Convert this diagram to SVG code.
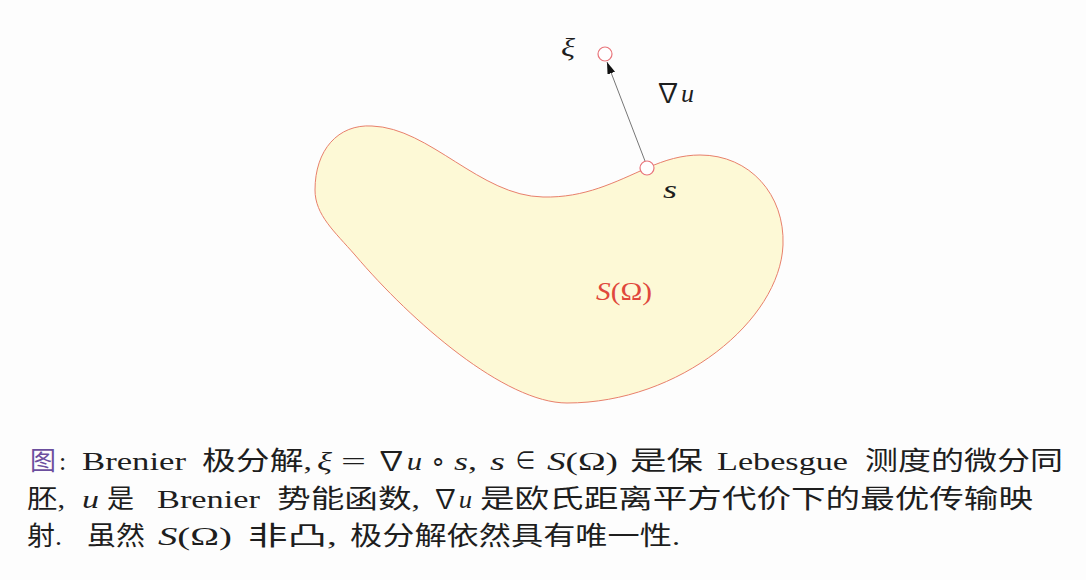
<svg xmlns="http://www.w3.org/2000/svg" width="1086" height="580" viewBox="0 0 1086 580">
  <style>
    .t { font-family: "Liberation Serif", "Noto Sans CJK SC", serif; font-size: 26px; fill: #1e1e1e; }
    .i { font-style: italic; }
    .red { fill: #e0483c; }
    .pt { fill: #ffffff; stroke: #e8747a; stroke-width: 1.2; }
  </style>
  <defs>
    <marker id="ah" viewBox="0 0 12 8" refX="12" refY="4" markerWidth="12" markerHeight="8" markerUnits="userSpaceOnUse" orient="auto">
      <path d="M0,0 L12,4 L0,8 Z" fill="#111"/>
    </marker>
  </defs>
  <rect width="1086" height="580" fill="#fdfdfd"/>

  <g id="domain">
    <path d="M 315,190 C 315,150 338,124 372,126 C 430,128 480,196 543,197 C 585,198 615,182 647,168 C 665,160 682,155 700,155 C 750,155 785,195 783,245 C 780,320 680,403 567,403 C 505,403 412,322 355,255 C 335,232 315,215 315,190 Z" fill="#fdf9d6" stroke="#e8806c" stroke-width="1"/>
    <text class="t red" x="596" y="300" textLength="56" lengthAdjust="spacingAndGlyphs"><tspan class="i">S</tspan>(Ω)</text>
  </g>

  <g id="connectors">
    <line x1="645" y1="161" x2="607" y2="62" stroke="#666" stroke-width="0.9" marker-end="url(#ah)"/>
  </g>

  <g id="node-s">
    <circle class="pt" cx="647" cy="168" r="7"/>
    <text class="t i" x="663" y="198" textLength="14" lengthAdjust="spacingAndGlyphs">s</text>
  </g>

  <g id="node-xi">
    <circle class="pt" cx="605" cy="54" r="7"/>
    <text class="t i" x="561" y="56" textLength="14" lengthAdjust="spacingAndGlyphs">ξ</text>
  </g>

  <g id="label-grad">
    <text class="t" x="655" y="102" textLength="39" lengthAdjust="spacingAndGlyphs">∇<tspan class="i">u</tspan></text>
  </g>

  <g id="caption">
    <text class="t" x="30" y="470" textLength="26" lengthAdjust="spacingAndGlyphs" style="fill:#6b4e9e">图</text>
    <text class="t" x="59" y="470">:</text>
    <text class="t" x="82" y="470" textLength="104" lengthAdjust="spacingAndGlyphs">Brenier</text>
    <text class="t" x="202" y="470" textLength="110" lengthAdjust="spacingAndGlyphs">极分解,</text>
    <text class="t i" x="317" y="470" textLength="15" lengthAdjust="spacingAndGlyphs">ξ</text>
    <text class="t" x="341" y="470" textLength="25" lengthAdjust="spacingAndGlyphs">=</text>
    <text class="t" x="376" y="470" textLength="46" lengthAdjust="spacingAndGlyphs">∇<tspan class="i">u</tspan></text>
    <text class="t" x="430" y="470" textLength="16" lengthAdjust="spacingAndGlyphs">∘</text>
    <text class="t" x="454" y="470" textLength="23" lengthAdjust="spacingAndGlyphs"><tspan class="i">s</tspan>,</text>
    <text class="t i" x="490" y="470" textLength="15" lengthAdjust="spacingAndGlyphs">s</text>
    <text class="t" x="515" y="470" textLength="21" lengthAdjust="spacingAndGlyphs">∈</text>
    <text class="t" x="547" y="470" textLength="71" lengthAdjust="spacingAndGlyphs"><tspan class="i">S</tspan>(Ω)</text>
    <text class="t" x="630" y="470" textLength="73" lengthAdjust="spacingAndGlyphs">是保</text>
    <text class="t" x="717" y="470" textLength="131" lengthAdjust="spacingAndGlyphs">Lebesgue</text>
    <text class="t" x="865" y="470" textLength="198" lengthAdjust="spacingAndGlyphs">测度的微分同</text>

    <text class="t" x="27" y="508" textLength="38" lengthAdjust="spacingAndGlyphs">胚,</text>
    <text class="t i" x="82" y="508" textLength="17" lengthAdjust="spacingAndGlyphs">u</text>
    <text class="t" x="107" y="508" textLength="27" lengthAdjust="spacingAndGlyphs">是</text>
    <text class="t" x="157" y="508" textLength="103" lengthAdjust="spacingAndGlyphs">Brenier</text>
    <text class="t" x="277" y="508" textLength="143" lengthAdjust="spacingAndGlyphs">势能函数,</text>
    <text class="t" x="432" y="508" textLength="40" lengthAdjust="spacingAndGlyphs">∇<tspan class="i">u</tspan></text>
    <text class="t" x="480" y="508" textLength="553" lengthAdjust="spacingAndGlyphs">是欧氏距离平方代价下的最优传输映</text>

    <text class="t" x="27" y="545" textLength="35" lengthAdjust="spacingAndGlyphs">射.</text>
    <text class="t" x="87" y="545" textLength="58" lengthAdjust="spacingAndGlyphs">虽然</text>
    <text class="t" x="158" y="545" textLength="74" lengthAdjust="spacingAndGlyphs"><tspan class="i">S</tspan>(Ω)</text>
    <text class="t" x="248" y="545" textLength="89" lengthAdjust="spacingAndGlyphs">非凸,</text>
    <text class="t" x="350" y="545" textLength="330" lengthAdjust="spacingAndGlyphs">极分解依然具有唯一性.</text>
  </g>
</svg>
